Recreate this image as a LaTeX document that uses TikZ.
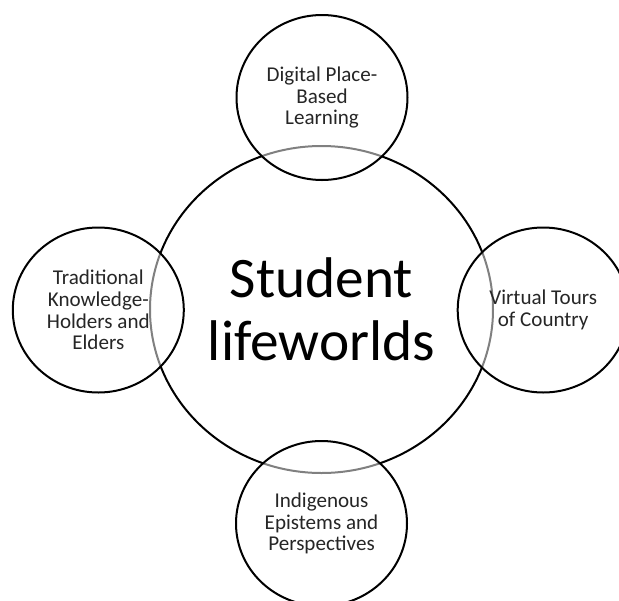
\documentclass[tikz,border=0pt]{standalone}
\usepackage{fontspec}
\setmainfont{Carlito}
\usetikzlibrary{shapes.geometric}
\begin{document}
\begin{tikzpicture}[x=0.75pt,y=-0.75pt,
  ring/.style={ellipse, draw=black, line width=1.5pt, inner sep=0pt, align=center},
  smallring/.style={ring, minimum width=128.25pt, minimum height=123.75pt,
     fill=white, fill opacity=0.5, text opacity=1, text=black!85,
     font=\fontsize{15.8}{16.3}\selectfont},
  bigring/.style={ring, minimum width=257.25pt, minimum height=245.25pt,
     font=\fontsize{43}{47.5}\selectfont}]
\clip (0,0) rectangle (619,601);
\fill[white] (0,0) rectangle (619,601);
\node[bigring] (center) at (321.5,309.5) {Student\\lifeworlds};
\node[smallring] (top) at (322,97.5) {Digital Place-\\Based\\Learning};
\node[smallring] (left) at (98.3,310) {Traditional\\Knowledge-\\Holders and\\Elders};
\node[smallring] (right) at (543.2,310) {Virtual Tours\\of Country};
\node[smallring] (bottom) at (321.5,523.5) {Indigenous\\Epistems and\\Perspectives};
\end{tikzpicture}
\end{document}
